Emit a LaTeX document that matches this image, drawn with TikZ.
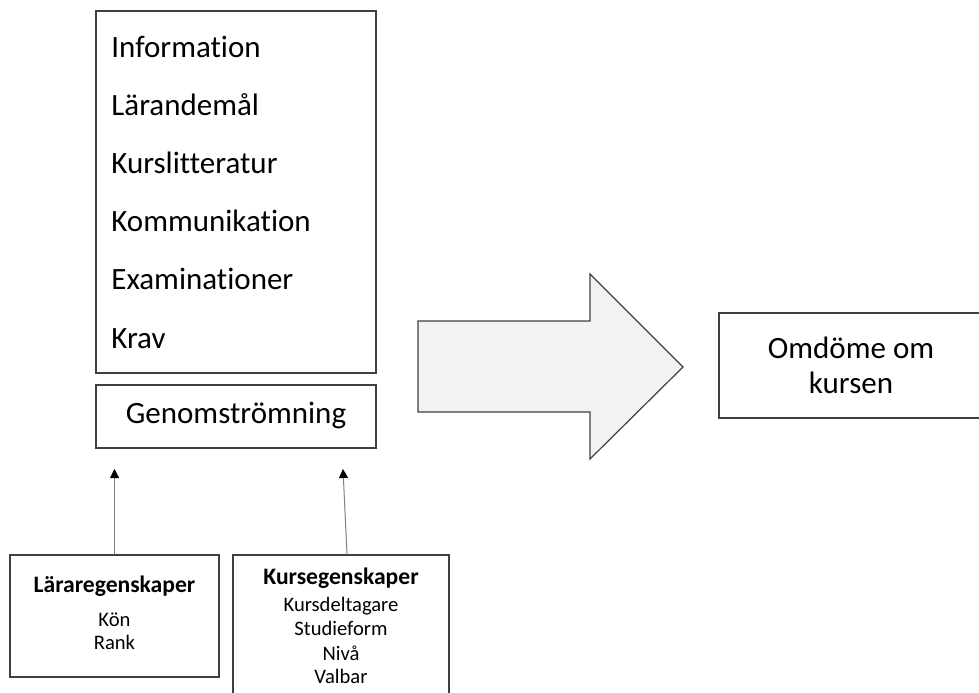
\documentclass[tikz,border=0pt]{standalone}
\usepackage{fontspec}
\setmainfont{Carlito}[Ligatures=NoCommon]
\usetikzlibrary{arrows.meta}
\definecolor{frame}{HTML}{3F3F3F}
\definecolor{link}{HTML}{808080}
\definecolor{bigarrow}{HTML}{F2F2F2}

\begin{document}
\begin{tikzpicture}[x=0.5pt,y=-0.5pt,
  box/.style={draw=frame,line width=0.75pt,inner sep=0pt},
  bigtxt/.style={font=\fontsize{15.5}{17.5}\selectfont},
  headtxt/.style={font=\fontsize{11.8}{14}\selectfont\bfseries,anchor=base,inner sep=0pt},
  itemtxt/.style={font=\fontsize{10.3}{12}\selectfont,anchor=base,inner sep=0pt},
  uparrow/.style={draw=link,line width=0.5pt,-{Triangle[length=4.5pt,width=4.5pt,color=black]}}]
  \useasboundingbox (0,0) rectangle (979,692);
  \clip (0,0) rectangle (979,692);

  % course content
  \node[box,minimum width=140pt,minimum height=181pt] (content) at (236,192) {};
  \foreach \t [count=\i] in {Information,Lärandemål,Kurslitteratur,Kommunikation,Examinationer,Krav}
    \node[bigtxt,anchor=base west,inner sep=0pt] (content-\i) at (111,{57+58.2*(\i-1)}) {\t};

  % throughput
  \node[box,bigtxt,minimum width=140pt,minimum height=31.5pt,text height=0.65em,text depth=0pt]
    (genom) at (236,416.5) {Genomströmning};

  % teacher and course properties
  \node[box,minimum width=104.5pt,minimum height=61pt] (teacher) at (114.5,616) {};
  \node[headtxt] (teacher-head) at (114.5,592) {Läraregenskaper};
  \foreach \t/\y [count=\i] in {Kön/626,Rank/649}
    \node[itemtxt] (teacher-\i) at (114.5,\y) {\t};

  \node[box,minimum width=108pt,minimum height=77.5pt] (course) at (341,632.5) {};
  \node[headtxt] (course-head) at (341,584) {Kursegenskaper};
  \foreach \t/\y [count=\i] in {Kursdeltagare/611,Studieform/635,Nivå/660,Valbar/683}
    \node[itemtxt] (course-\i) at (341,\y) {\t};

  \coordinate (tipA) at (114.5,469);
  \coordinate (tipB) at (343,469);
  \draw[uparrow] (teacher.north) -- (tipA);
  \draw[uparrow] ([xshift=3pt]course.north) -- (tipB);

  % big arrow
  \draw[draw=frame,fill=bigarrow,line width=0.6pt,line join=miter]
    (418,321) -- (590,321) -- (590,274) -- (683,367) -- (590,459) -- (590,412) -- (418,412) -- cycle;

  % judgement
  \node[box,bigtxt,align=center,minimum width=132pt,minimum height=52.5pt]
    (judge) at (851,365.5) {Omdöme om\\kursen};
\end{tikzpicture}
\end{document}
